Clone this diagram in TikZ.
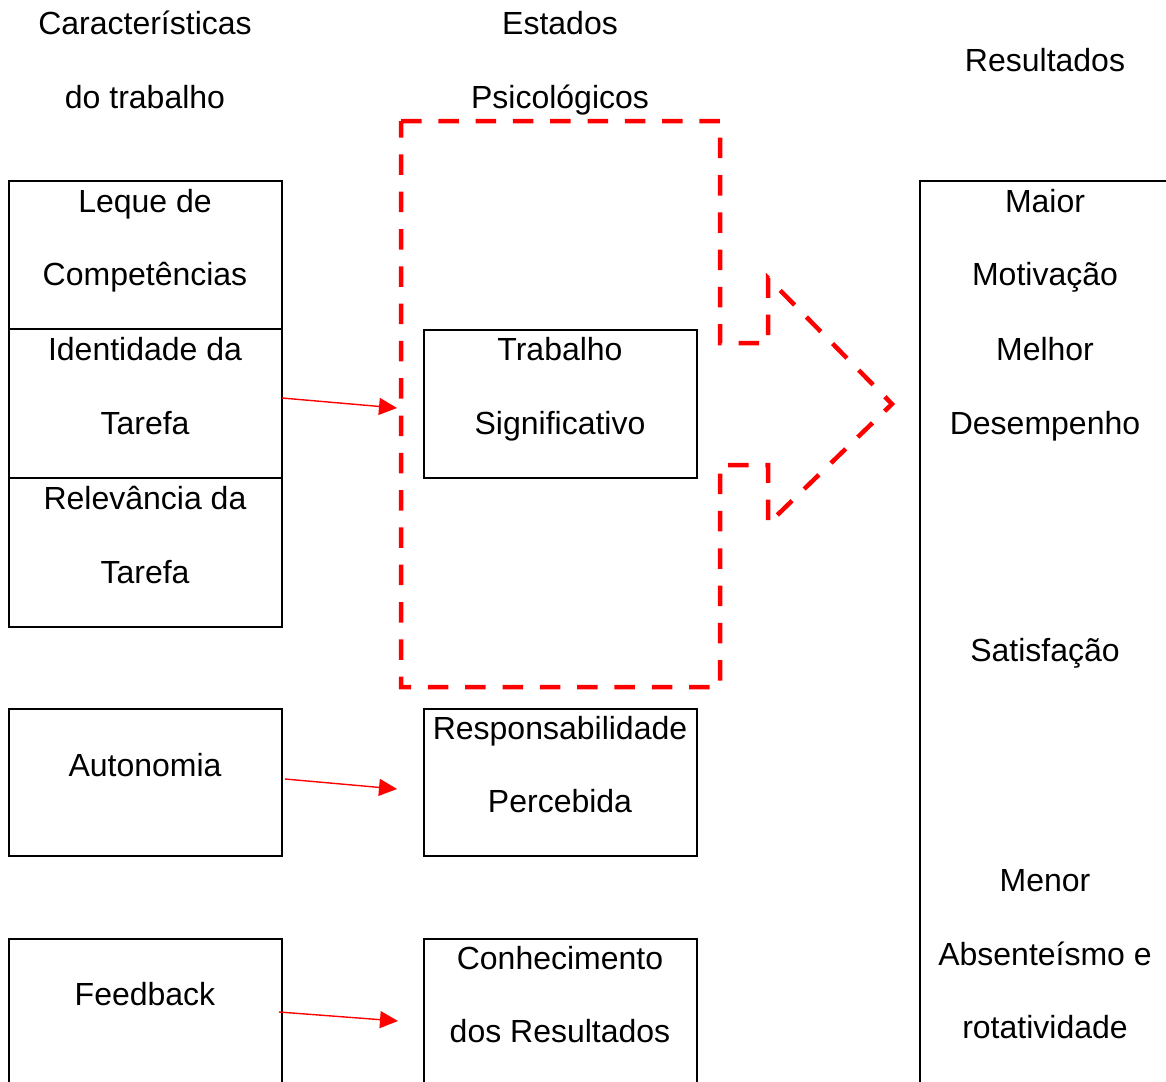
\documentclass[tikz,border=0pt]{standalone}
\usepackage{fontspec}
\setmainfont{Liberation Sans}
\usetikzlibrary{arrows.meta}
\definecolor{myred}{RGB}{255,0,0}
\begin{document}
\begin{tikzpicture}[x=1pt,y=-1pt,
  box/.style={draw=black,line width=1.6pt,rectangle,inner sep=0pt},
  txt/.style={anchor=base,inner sep=0pt,font=\fontsize{32}{38}\selectfont},
  redarrow/.style={draw=myred,line width=1.4pt,-{Triangle[length=18pt,width=17pt]}},
  dashline/.style={draw=myred,line width=4.5pt,dash pattern=on 20.5pt off 16.8pt}]
\useasboundingbox (0,0) rectangle (1166,1081);
\clip (0,0) rectangle (1166,1081);
% headers
\node[txt] (h1a) at (145,34.5) {Características};
\node[txt] (h1b) at (145,108.5) {do trabalho};
\node[txt] (h2a) at (560,34.5) {Estados};
\node[txt] (h2b) at (560,108.5) {Psicológicos};
\node[txt] (h3) at (1045,71.5) {Resultados};
% left boxes
\node[box,minimum width=273pt,minimum height=148pt] (lb1) at (145.5,255) {};
\node[box,minimum width=273pt,minimum height=149pt] (lb2) at (145.5,403.5) {};
\node[box,minimum width=273pt,minimum height=149pt] (lb3) at (145.5,552.5) {};
\node[box,minimum width=273pt,minimum height=147pt] (lb4) at (145.5,782.5) {};
\node[box,minimum width=273pt,minimum height=160pt] (lb5) at (145.5,1019) {};
\node[txt] (t1a) at (145,212.5) {Leque de};
\node[txt] (t1b) at (145,285.5) {Competências};
\node[txt] (t2a) at (145,360.5) {Identidade da};
\node[txt] (t2b) at (145,434.5) {Tarefa};
\node[txt] (t3a) at (145,509.5) {Relevância da};
\node[txt] (t3b) at (145,583.5) {Tarefa};
\node[txt] (t4) at (145,776.5) {Autonomia};
\node[txt] (t5) at (145,1005.5) {Feedback};
% middle boxes
\node[box,minimum width=273pt,minimum height=148pt] (mb1) at (560.5,404) {};
\node[box,minimum width=273pt,minimum height=147pt] (mb2) at (560.5,782.5) {};
\node[box,minimum width=273pt,minimum height=160pt] (mb3) at (560.5,1019) {};
\node[txt] (m1a) at (560,360.5) {Trabalho};
\node[txt] (m1b) at (560,434.5) {Significativo};
\node[txt] (m2a) at (560,739.5) {Responsabilidade};
\node[txt] (m2b) at (560,812.5) {Percebida};
\node[txt] (m3a) at (560,969.5) {Conhecimento};
\node[txt] (m3b) at (560,1042.5) {dos Resultados};
% right box
\node[box,minimum width=300pt,minimum height=940pt] (rb) at (1070,651) {};
\node[txt] (r1) at (1045,212.5) {Maior};
\node[txt] (r2) at (1045,285.5) {Motivação};
\node[txt] (r3) at (1045,360.5) {Melhor};
\node[txt] (r4) at (1045,434.5) {Desempenho};
\node[txt] (r5) at (1045,661.5) {Satisfação};
\node[txt] (r6) at (1045,891.5) {Menor};
\node[txt] (r7) at (1045,965.5) {Absenteísmo e};
\node[txt] (r8) at (1045,1038.5) {rotatividade};
% red dashed arrow shape
\draw[dashline] (401,121) -- (720,121) -- (720,343) -- (768,343) -- (768,278)
  -- (892,404) -- (768,524) -- (768,465) -- (720,465) -- (720,687)
  -- (401,687) -- cycle;
% red arrows
\coordinate (a1s) at (282,398);
\coordinate (a1e) at (397,408);
\coordinate (a2s) at (285,779);
\coordinate (a2e) at (397,789);
\coordinate (a3s) at (279,1012);
\coordinate (a3e) at (398,1021);
\draw[redarrow] (a1s) -- (a1e);
\draw[redarrow] (a2s) -- (a2e);
\draw[redarrow] (a3s) -- (a3e);
\end{tikzpicture}
\end{document}
